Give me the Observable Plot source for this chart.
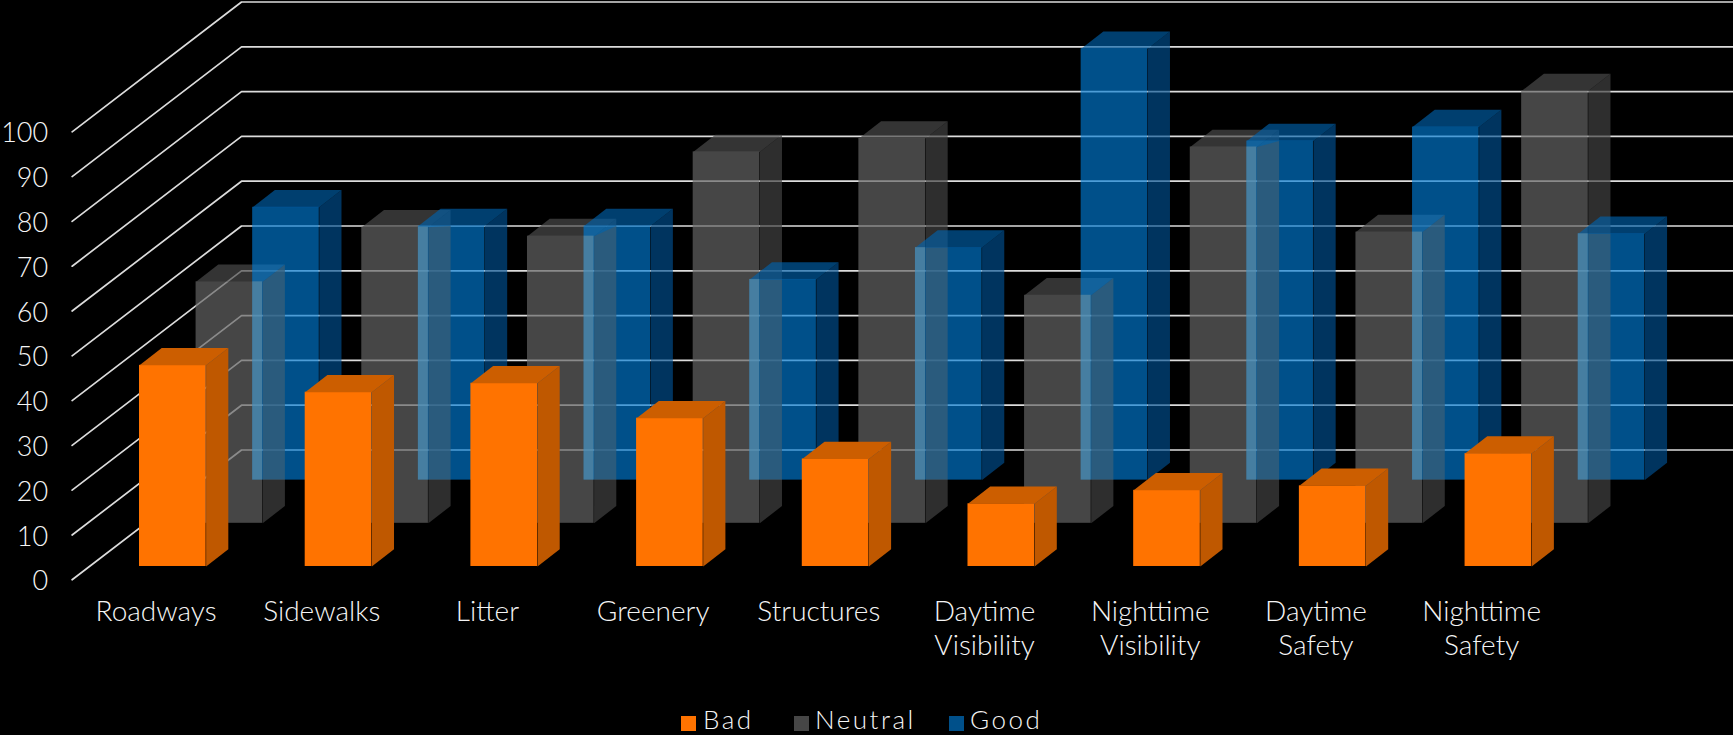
<!DOCTYPE html>
<html>
<head>
<meta charset="utf-8">
<script src="https://cdn.jsdelivr.net/npm/d3@7"></script>
<script src="https://cdn.jsdelivr.net/npm/@observablehq/plot@0.6"></script>
<style>
  html, body { margin: 0; padding: 0; background: #000; overflow: hidden; }
  #chart { position: absolute; left: 0; top: 0; }
  #legend { position: absolute; left: 0; top: 705px; width: 1733px; height: 30px; color: #f5f5f5;
            font: 300 26px Lato, "Open Sans", sans-serif; letter-spacing: 2.5px; }
  .key { position: absolute; top: -1px; height: 31px; line-height: 31px; white-space: nowrap; }
  .swatch { position: absolute; top: 11px; width: 15px; height: 15px; }
  g[aria-label="category"] { letter-spacing: 2.6px; }
</style>
</head>
<body>
<div id="chart"></div>
<div id="legend"></div>
<script>
const categories = ["Roadways", "Sidewalks", "Litter", "Greenery", "Structures",
  "Daytime\nVisibility", "Nighttime\nVisibility", "Daytime\nSafety", "Nighttime\nSafety"];
const bad     = [44.9, 38.9, 40.9, 33.1, 24.0, 14.0, 17.0, 18.0, 25.2];
const neutral = [53.9, 66.1, 64.1, 82.9, 85.9, 50.9, 84.0, 65.0, 96.5];
const good    = [60.9, 56.7, 56.7, 44.8, 51.9, 96.3, 75.7, 78.8, 55.0];
const ticks = d3.range(0, 101, 10);

// Projection of the pseudo-3D scene, in data units (x: categories, y: value units)
const barW = 0.402, capX = 0.134, capY = 3.86;
const stepX = 0.3415, stepY = 9.64;
const floorFront = {x: -0.4067, y: -2.97}, floorBack = {x: 0.6156, y: 26};
const xMax = 9.62;

const series = [
  {name: "Neutral", values: neutral, depth: 1, front: "#656565", side: "#434343", top: "#4c4c4c", opacity: 0.69},
  {name: "Good",    values: good,    depth: 2, front: "#007bd4", side: "#005092", top: "#0061aa", opacity: 0.65},
  {name: "Bad",     values: bad,     depth: 0, front: "#ff7300", side: "#bf5800", top: "#cc5e00", opacity: 1}
];

function faces(s) {
  const fronts = [], polys = [];
  s.values.forEach((v, i) => {
    const x0 = i + s.depth * stepX, x1 = x0 + barW, b = s.depth * stepY, t = b + v;
    fronts.push({x1: x0, x2: x1, y1: b, y2: t});
    const poly = (face, fill, pts) => pts.forEach(([x, y]) => polys.push({id: `${s.name}${i}${face}`, fill, x, y}));
    poly("side", s.side, [[x1, b], [x1 + capX, b + capY], [x1 + capX, t + capY], [x1, t]]);
    poly("top", s.top, [[x0, t], [x1, t], [x1 + capX, t + capY], [x0 + capX, t + capY]]);
  });
  return {fronts, polys};
}

function barMarks(s) {
  const {fronts, polys} = faces(s);
  return [
    Plot.rect(fronts, {x1: "x1", x2: "x2", y1: "y1", y2: "y2", fill: s.front, fillOpacity: s.opacity}),
    ...d3.groups(polys, d => d.fill).map(([fill, pts]) =>
      Plot.line(pts, {x: "x", y: "y", z: "id", fill, fillOpacity: s.opacity, stroke: "none"}))
  ];
}

const gridPts = ticks.flatMap(v => [
  {v, x: floorFront.x, y: v + floorFront.y},
  {v, x: floorBack.x, y: v + floorBack.y},
  {v, x: xMax, y: v + floorBack.y}
]);

// Glass effect where a Good bar crosses its Neutral bar: one strip over the
// Neutral front face, one over the Neutral side face.
const frontStrips = categories.map((c, i) => ({
  x1: i + 2 * stepX, x2: i + stepX + barW, y1: 2 * stepY,
  y2: Math.min(neutral[i] + stepY, good[i] + 2 * stepY)
}));
const sideStrips = categories.flatMap((c, i) => {
  const xa = i + stepX + barW, xb = xa + capX, gt = good[i] + 2 * stepY, nt = neutral[i] + stepY, base = 2 * stepY;
  return [
    {id: i, x: xa, y: base}, {id: i, x: xb, y: base},
    {id: i, x: xb, y: Math.min(nt + capY, gt)}, {id: i, x: xa, y: Math.min(nt, gt)}
  ];
});

const labelFont = 'Lato, "Open Sans", sans-serif';
const svg = Plot.plot({
  width: 1733, height: 705, margin: 0,
  style: {background: "#000"},
  x: {axis: null, domain: [-0.8389, xMax], range: [0, 1733]},
  y: {axis: null, domain: [-31.03, 126.34], range: [705, 0]},
  marks: [
    Plot.line(gridPts, {x: "x", y: "y", z: "v", stroke: "#dcdcdc", strokeWidth: 1.7}),
    ...barMarks(series[0]),
    ...barMarks(series[1]),
    Plot.rect(frontStrips, {x1: "x1", x2: "x2", y1: "y1", y2: "y2", fill: "#b4b4a0", fillOpacity: 0.3}),
    Plot.line(sideStrips, {x: "x", y: "y", z: "id", fill: "#784b28", fillOpacity: 0.25, stroke: "none"}),
    ...barMarks(series[2]),
    Plot.text(ticks, {x: floorFront.x, y: d => d + floorFront.y, text: d => String(d), dx: -24, dy: 2, textAnchor: "end",
      fill: "#f5f5f5", fontSize: 27, fontWeight: 300, fontFamily: labelFont}),
    Plot.text(categories, {x: (d, i) => i + 0.1, y: -10.5, text: d => d, lineAnchor: "top", dy: -16, lineHeight: 1.2,
      fill: "#f5f5f5", fontSize: 28, fontWeight: 300, fontFamily: labelFont, textAnchor: "middle", ariaLabel: "category"})
  ]
});
document.getElementById("chart").append(svg);

const legend = [
  {label: "Bad", color: "#ff7300", sx: 681, tx: 703},
  {label: "Neutral", color: "#464646", sx: 794, tx: 815},
  {label: "Good", color: "#00508a", sx: 949, tx: 970}
];
const lg = document.getElementById("legend");
legend.forEach(k => {
  const sw = document.createElement("div");
  sw.className = "swatch"; sw.style.left = k.sx + "px"; sw.style.background = k.color;
  const t = document.createElement("div");
  t.className = "key"; t.style.left = k.tx + "px"; t.textContent = k.label;
  lg.append(sw, t);
});
</script>
</body>
</html>
